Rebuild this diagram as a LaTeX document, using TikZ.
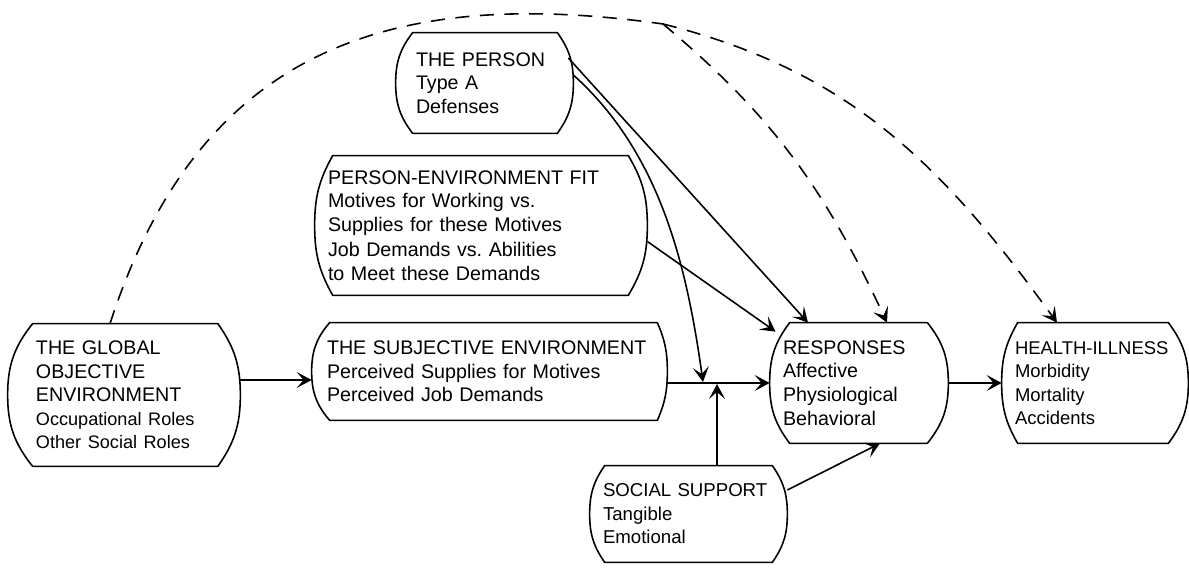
\documentclass[tikz,border=0pt]{standalone}
\usepackage{fontspec}
\setmainfont{Liberation Sans}
\usetikzlibrary{arrows.meta,calc}
\tikzset{
  box/.style={inner sep=0pt, align=left, font=\frenchspacing\fontsize{11.2}{13.4}\selectfont},
  ed/.style={-{Stealth[length=3mm,width=3.2mm,inset=1.4mm]}, line width=0.9pt},
  dsh/.style={line width=0.9pt, dash pattern=on 8pt off 6pt},
  edn/.style={ed, dsh},
  outl/.style={line width=0.9pt, line join=round}
}

\begin{document}
\begin{tikzpicture}
\useasboundingbox (0,0) rectangle (23.78,11.38);
\node[box, minimum width=4.64cm, minimum height=2.84cm, text width=3.52cm] (glob) at (2.48,3.48)
  {THE GLOBAL\\OBJECTIVE\\ENVIRONMENT\\\fontsize{10.3}{13.4}\selectfont Occupational Roles\\Other Social Roles};
\node[box, minimum width=7.1cm, minimum height=1.94cm, text width=6.5cm] (subj) at (9.79,3.95)
  {THE SUBJECTIVE ENVIRONMENT\\Perceived Supplies for Motives\\Perceived Job Demands};
\node[box, minimum width=3.54cm, minimum height=2.0cm, text width=2.74cm] (pers) at (9.69,9.72)
  {THE PERSON\\Type A\\Defenses};
\node[box, minimum width=6.64cm, minimum height=2.78cm, text width=6.12cm] (pef) at (9.62,6.87)
  {PERSON-ENVIRONMENT FIT\\Motives for Working vs.\\Supplies for these Motives\\[1pt]Job Demands vs. Abilities\\to Meet these Demands};
\node[box, minimum width=3.56cm, minimum height=2.4cm, text width=3.04cm] (resp) at (17.18,3.72)
  {RESPONSES\\Affective\\Physiological\\Behavioral};
\node[box, minimum width=3.72cm, minimum height=2.4cm, text width=3.2cm,
      font=\frenchspacing\fontsize{10.5}{13.4}\selectfont] (heal) at (21.9,3.72)
  {HEALTH-ILLNESS\\Morbidity\\Mortality\\Accidents};
\node[box, minimum width=3.94cm, minimum height=1.92cm, text width=3.42cm,
      font=\frenchspacing\fontsize{10.6}{13.4}\selectfont] (soc) at (13.77,1.1)
  {SOCIAL SUPPORT\\Tangible\\Emotional};

\foreach \n/\lx/\rx/\hh in {glob/0.5/0.45/1.42, subj/0.36/0.2/0.97, pers/0.34/0.32/1.0,
                            pef/0.36/0.38/1.39, resp/0.4/0.42/1.2, heal/0.32/0.4/1.2,
                            soc/0.3/0.3/0.96}{
  \pgfmathsetmacro\al{90-2*atan(\lx/\hh)}
  \pgfmathsetmacro\ar{90-2*atan(\rx/\hh)}
  \draw[outl] ([xshift=\lx cm]\n.north west) -- ([xshift=-\rx cm]\n.north east)
    to[out=-\ar,in=90] (\n.east) to[out=-90,in=\ar] ([xshift=-\rx cm]\n.south east)
    -- ([xshift=\lx cm]\n.south west) to[out=180-\al,in=-90] (\n.west)
    to[out=90,in=\al-180] cycle;
}

\coordinate (pin) at (14.06,3.74);
\coordinate (sin) at (14.34,3.70);
\coordinate (fork) at (13.26,10.9);

\draw[ed] ([yshift=0.3cm]glob.east) -- ([yshift=0.3cm]glob.east -| subj.west);
\draw[ed] (subj.east |- resp.west) -- (resp.west);
\draw[ed] ([xshift=-0.1cm,yshift=0.5cm]pers.east) -- ([xshift=-1.02cm]resp.north);
\draw[ed] ([yshift=0.16cm]pers.east) to[out=-42,in=98,looseness=0.9] (pin);
\draw[ed] ([yshift=-0.32cm]pef.east) -- ([xshift=0.12cm,yshift=-0.18cm]resp.north west);
\draw[ed] (sin |- soc.north) -- (sin);
\draw[ed] ([yshift=0.48cm]soc.east) -- ([xshift=0.42cm]resp.south);
\draw[ed] (resp.east) -- (heal.west);
\draw[dsh] ([xshift=-0.28cm]glob.north) to[out=72,in=172,looseness=1.15] (fork);
\draw[edn] (fork) to[out=-40,in=115] ([xshift=0.56cm]resp.north);
\draw[edn] (fork) to[out=-14,in=126] ([xshift=-0.76cm]heal.north);
\end{tikzpicture}
\end{document}
